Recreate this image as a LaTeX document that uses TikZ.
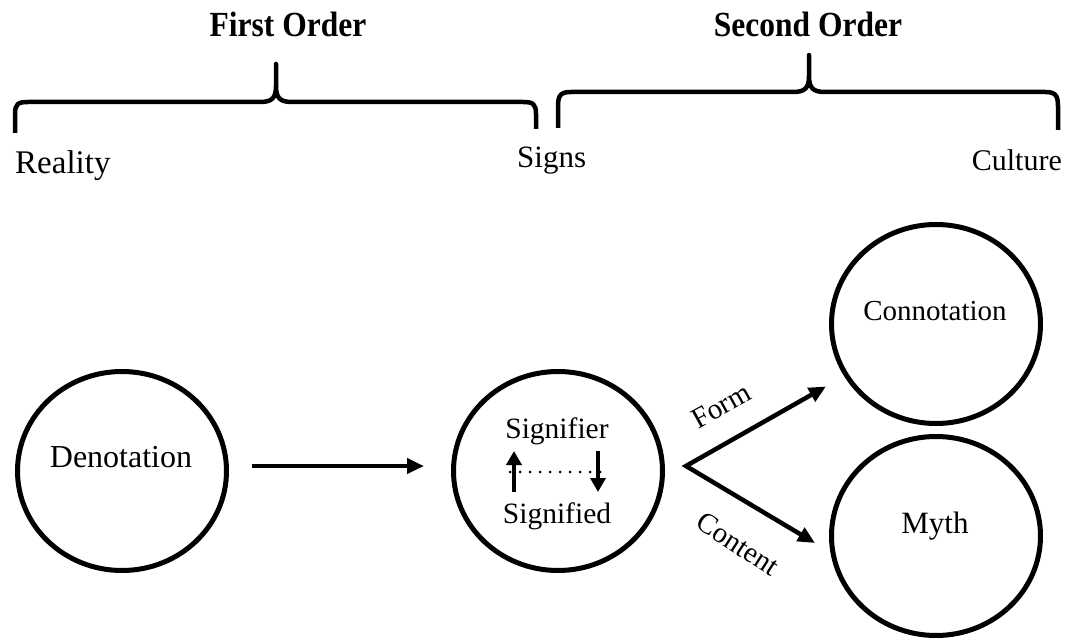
\documentclass[tikz,border=0pt]{standalone}
\usepackage{fontspec}
\setmainfont{Liberation Serif}
\usetikzlibrary{arrows.meta,shapes.geometric,calc}
\newcommand\fsz[1]{\fontsize{#1}{#1}\selectfont}
\newcommand\tallbox[1]{\scalebox{1}[1.12]{#1}}
\begin{document}
\begin{tikzpicture}[x=1pt,y=-1pt,
 ring/.style={draw,ellipse,line width=5pt,inner sep=0pt,minimum width=209pt,minimum height=199pt},
 lbl/.style={inner sep=0pt,anchor=base},
 arr/.style={line width=4.5pt,-{Triangle[length=17pt,width=15pt]}},
 vee/.style={line width=4.5pt,line join=miter,{Triangle[length=17pt,width=15pt]}-{Triangle[length=17pt,width=15pt]}},
 smallarr/.style={line width=4.5pt,-{Triangle[length=14pt,width=15pt]}},
 brace/.style={line width=4.5pt,line join=round}]
\useasboundingbox (0,0) rectangle (1074,639);
% titles
\node[lbl,font=\fsz{31.5}\bfseries] (t1) at (288,37) {\tallbox{First Order}};
\node[lbl,font=\fsz{31.5}\bfseries] (t2) at (808,37) {\tallbox{Second Order}};
% braces
\draw[brace] (15,133) -- (15,114) .. controls (15,104) and (18,102) .. (28,102)
  -- (260,102) .. controls (272,102) and (276,98) .. (276,86) -- (276,64)
  -- (276,86) .. controls (276,98) and (280,102) .. (292,102)
  -- (523,102) .. controls (533,102) and (536,104) .. (536,114) -- (536,129);
\draw[brace] (558,128) -- (558,106) .. controls (558,95) and (561,92) .. (571,92)
  -- (793,92) .. controls (805,92) and (809,88) .. (809,76) -- (809,55)
  -- (809,76) .. controls (809,88) and (813,92) .. (825,92)
  -- (1045,92) .. controls (1055,92) and (1058,95) .. (1058,106) -- (1058,130);
% bottom labels of braces
\node[lbl,anchor=base west,font=\fsz{33}] (reality) at (15,174) {Reality};
\node[lbl,anchor=base west,font=\fsz{31}] (signs) at (517,168) {Signs};
\node[lbl,anchor=base east,font=\fsz{30}] (culture) at (1062,171) {Culture};
% circles
\node[ring] (den) at (122,471) {};
\node[ring] (mid) at (558,471) {};
\node[ring] (conn) at (936,324) {};
\node[ring] (myth) at (936,536) {};
% circle texts
\node[lbl,font=\fsz{32}] (tden) at (121,467) {Denotation};
\node[lbl,font=\fsz{29}] (tconn) at (935,320) {Connotation};
\node[lbl,font=\fsz{31}] (tmyth) at (935,533) {Myth};
\node[lbl,font=\fsz{29.5}] (tsr) at (557,438) {Signifier};
\node[lbl,font=\fsz{29.5}] (tsd) at (557,523) {Signified};
% inner arrows and dotted line
\draw[smallarr] (514,492) -- (514,451);
\draw[smallarr] (598,451) -- (598,492);
\draw[line width=3pt,dash pattern=on 0pt off 10pt,line cap=round] (510,472) -- (607,472);
% main arrows
\draw[arr,shorten <=22.5pt,shorten >=27pt] ([yshift=5pt]den.east) -- ([yshift=5pt]mid.west);
\coordinate (v) at (686,466);
\coordinate (ft) at ($(v)!161pt!(conn)$);
\coordinate (ct) at (815,543);
\draw[vee] (ft) -- (v) -- (ct);
% labels
\node[font=\fsz{29},rotate=29,inner sep=0pt] (lform) at (721,406) {Form};
\node[font=\fsz{29},rotate=-33,inner sep=0pt] (lcont) at (738,544) {Content};
\end{tikzpicture}
\end{document}
